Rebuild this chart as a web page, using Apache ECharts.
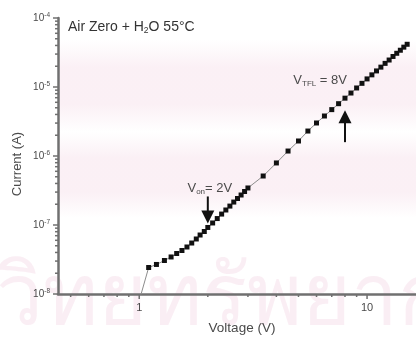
<!DOCTYPE html>
<html>
<head>
<meta charset="utf-8">
<script src="https://cdn.jsdelivr.net/npm/echarts@6/dist/echarts.min.js"></script>
<style>
  html, body { margin: 0; padding: 0; background: #ffffff; }
  #chart { width: 416px; height: 340px; }
</style>
</head>
<body>
<div id="chart"></div>
<script>
// I–V sweep, Air Zero + H2O at 55 °C (log–log)
const voltage = [1.0, 1.10, 1.19, 1.29, 1.38, 1.46, 1.54, 1.62, 1.70, 1.78, 1.85, 1.93, 2.0,
  2.1, 2.2, 2.3, 2.4, 2.5, 2.6, 2.7, 2.8, 2.9, 3.0,
  3.5, 4.0, 4.5, 5.0, 5.5, 6.0,
  6.5, 7.0, 7.5, 8.0, 8.5, 9.0, 9.5, 10, 10.5, 11, 11.5, 12, 12.5, 13, 13.5, 14, 14.5, 15];
const current = [8.0e-9, 2.42e-8, 2.68e-8, 3.06e-8, 3.44e-8, 3.86e-8, 4.27e-8, 4.80e-8, 5.48e-8, 6.27e-8, 7.16e-8, 8.05e-8, 9.21e-8,
  1.07e-7, 1.24e-7, 1.44e-7, 1.65e-7, 1.88e-7, 2.15e-7, 2.42e-7, 2.72e-7, 3.06e-7, 3.44e-7,
  5.13e-7, 7.93e-7, 1.18e-6, 1.65e-6, 2.30e-6, 3.01e-6,
  3.80e-6, 4.70e-6, 5.73e-6, 6.89e-6, 8.18e-6, 9.68e-6, 1.13e-5, 1.31e-5, 1.50e-5, 1.71e-5, 1.94e-5, 2.20e-5, 2.46e-5, 2.77e-5, 3.08e-5, 3.41e-5, 3.78e-5, 4.16e-5];

// axis ranges and ticks
const xRange = [0.44, 16.4];
const yRange = [1e-8, 1e-4];
const xMajorTicks = [1, 10];
const xMinorTicks = [0.5, 0.6, 0.7, 0.8, 0.9, 2, 3, 4, 5, 6, 7, 8, 9];
const yMajorTicks = [1e-8, 1e-7, 1e-6, 1e-5, 1e-4];
const yMinorTicks = [];
[-8, -7, -6, -5].forEach(function (e) {
  [2, 3, 4, 5, 6, 7, 8, 9].forEach(function (m) { yMinorTicks.push(m * Math.pow(10, e)); });
});

// threshold markers: voltage, subscript, rest of label
const thresholds = [
  { v: 2, sub: 'on', rest: '= 2V' },
  { v: 8, sub: 'TFL', rest: ' = 8V' }
];

const titleText = 'Air Zero + H{sub|2}O 55°C';
const xName = 'Voltage (V)';
const yName = 'Current (A)';
const watermark = 'วิทยทรัพยากร';

const FONT = 'Liberation Sans, Arial, Helvetica, sans-serif';
const TEXT_GRAY = '#4a4a4a';
const AXIS_GRAY = '#707070';

const chart = echarts.init(document.getElementById('chart'), null, { renderer: 'canvas' });

// tick geometry records: [x, y] on the axes, with kind per item
const tickData = [];
const tickKind = [];
xMajorTicks.forEach(function (v) { tickData.push([v, yRange[0]]); tickKind.push('xM'); });
xMinorTicks.forEach(function (v) { tickData.push([v, yRange[0]]); tickKind.push('xm'); });
yMajorTicks.forEach(function (v) { tickData.push([xRange[0], v]); tickKind.push('yM'); });
yMinorTicks.forEach(function (v) { tickData.push([xRange[0], v]); tickKind.push('ym'); });

function currentAt(v) {
  return current[voltage.indexOf(v)];
}

function softBand() {
  return {
    type: 'linear', x: 0, y: 0, x2: 0, y2: 1,
    colorStops: [
      { offset: 0, color: 'rgba(246,222,233,0)' },
      { offset: 0.3, color: 'rgba(246,222,233,0.45)' },
      { offset: 0.7, color: 'rgba(246,222,233,0.45)' },
      { offset: 1, color: 'rgba(246,222,233,0)' }
    ]
  };
}

const option = {
  animation: false,
  backgroundColor: '#ffffff',
  textStyle: { fontFamily: FONT },
  grid: { left: 58, right: 0, top: 18, bottom: 46, containLabel: false },
  graphic: [
    // faint background wash and lettering
    { type: 'rect', z: -10, shape: { x: 58, y: 40, width: 358, height: 92 }, style: { fill: softBand() } },
    { type: 'rect', z: -10, shape: { x: 58, y: 132, width: 358, height: 86 }, style: { fill: softBand() } },
    { type: 'text', z: -10, left: -4, top: 258,
      style: { text: watermark, font: '84px "Noto Sans", "DejaVu Sans", sans-serif', fill: 'rgba(240,200,218,0.3)' } },
    { type: 'text', left: 68, top: 20,
      style: { text: titleText, font: '14px ' + FONT, fill: '#333333',
        rich: { sub: { fontSize: 8.5, fontFamily: FONT, fill: '#333333', padding: [8, 0, 0, 0] } } } },
    { type: 'text', x: 17, y: 164, rotation: Math.PI / 2,
      style: { text: yName, font: '13px ' + FONT, fill: TEXT_GRAY, align: 'center', verticalAlign: 'middle' } },
    { type: 'text', x: 242, y: 328,
      style: { text: xName, font: '13.5px ' + FONT, fill: TEXT_GRAY, align: 'center', verticalAlign: 'middle' } }
  ],
  xAxis: {
    type: 'log', logBase: 10, min: xRange[0], max: xRange[1],
    axisLine: { show: true, lineStyle: { color: AXIS_GRAY, width: 2.5 } },
    axisTick: { show: false },
    splitLine: { show: false },
    minorTick: { show: false },
    axisLabel: {
      color: TEXT_GRAY, fontSize: 11, margin: 8, fontFamily: FONT,
      showMinLabel: false, showMaxLabel: false,
      formatter: function (v) {
        const e = Math.log10(v);
        return Math.abs(e - Math.round(e)) < 1e-6 ? String(Math.round(v)) : '';
      }
    }
  },
  yAxis: {
    type: 'log', logBase: 10, min: yRange[0], max: yRange[1],
    axisLine: { show: true, lineStyle: { color: AXIS_GRAY, width: 2.5 } },
    axisTick: { show: false },
    splitLine: { show: false },
    minorTick: { show: false },
    axisLabel: {
      color: TEXT_GRAY, fontSize: 10, margin: 8, fontFamily: FONT,
      formatter: function (v) { return '10{sup|' + Math.round(Math.log10(v)) + '}'; },
      rich: { sup: { fontSize: 6.5, fontFamily: FONT, color: TEXT_GRAY, padding: [0, 0, 6, 0] } }
    }
  },
  series: [
    {
      type: 'custom',
      name: 'ticks',
      silent: true,
      z: 5,
      data: tickData,
      renderItem: function (params, api) {
        const kind = tickKind[params.dataIndex];
        const p = api.coord([api.value(0), api.value(1)]);
        const len = (kind === 'xM' || kind === 'yM') ? 5 : 3;
        let shape;
        if (kind[0] === 'x') shape = { x1: p[0], y1: p[1], x2: p[0], y2: p[1] + len };
        else shape = { x1: p[0] - len, y1: p[1], x2: p[0], y2: p[1] };
        return { type: 'line', shape: shape, style: { stroke: AXIS_GRAY, lineWidth: 1.5 } };
      }
    },
    {
      type: 'line',
      name: 'I–V',
      data: voltage.map(function (v, i) { return [v, current[i]]; }),
      symbol: 'rect',
      symbolSize: 5,
      showAllSymbol: true,
      clip: true,
      itemStyle: { color: '#111111' },
      lineStyle: { color: '#8c8c8c', width: 1 },
      z: 3
    },
    {
      type: 'custom',
      name: 'thresholds',
      silent: true,
      z: 6,
      data: thresholds.map(function (t) { return [t.v, currentAt(t.v)]; }),
      renderItem: function (params, api) {
        const t = thresholds[params.dataIndex];
        const p = api.coord([api.value(0), api.value(1)]);
        const x = p[0], y = p[1];
        const rich = { s: { fontSize: 8, fontFamily: FONT, fill: TEXT_GRAY, padding: [7, 0, 0, 0] } };
        const label = 'V{s|' + t.sub + '}' + t.rest;
        if (params.dataIndex === 0) {
          // downward arrow above the curve
          const tip = y - 4, base = tip - 13, tail = tip - 27;
          return { type: 'group', children: [
            { type: 'line', shape: { x1: x, y1: tail, x2: x, y2: base + 1 }, style: { stroke: '#111', lineWidth: 2 } },
            { type: 'polygon', shape: { points: [[x - 6.5, base], [x + 6.5, base], [x, tip]] }, style: { fill: '#111' } },
            { type: 'text', style: { x: x + 2, y: tail - 1, text: label, rich: rich, font: '13px ' + FONT, fill: TEXT_GRAY, align: 'center', verticalAlign: 'bottom' } }
          ] };
        }
        // upward arrow below the curve
        const tip = y + 12, base = tip + 13, tail = tip + 32;
        return { type: 'group', children: [
          { type: 'line', shape: { x1: x, y1: tail, x2: x, y2: base - 1 }, style: { stroke: '#111', lineWidth: 2 } },
          { type: 'polygon', shape: { points: [[x - 6.5, base], [x + 6.5, base], [x, tip]] }, style: { fill: '#111' } },
          { type: 'text', style: { x: x + 2, y: y - 18, text: label, rich: rich, font: '13px ' + FONT, fill: TEXT_GRAY, align: 'right', verticalAlign: 'middle' } }
        ] };
      }
    }
  ]
};

chart.setOption(option);
</script>
</body>
</html>
